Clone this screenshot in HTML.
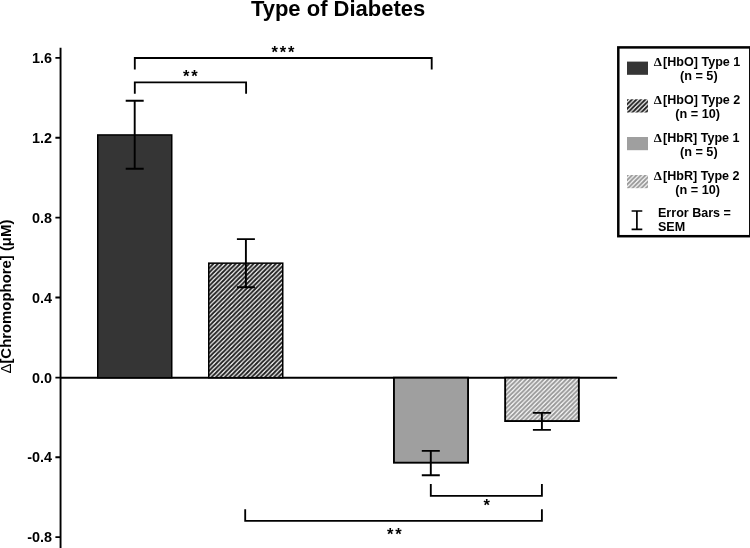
<!DOCTYPE html>
<html><head><meta charset="utf-8"><title>Type of Diabetes</title>
<style>
html,body{margin:0;padding:0;background:#fff;}
svg{display:block;}
text{font-family:"Liberation Sans",Arial,sans-serif;font-weight:bold;fill:#000;}
.d{font-family:"Liberation Serif","Times New Roman",serif;font-size:11.8px;font-weight:bold;}
</style></head><body>
<svg width="750" height="548" viewBox="0 0 750 548">
<defs>
<pattern id="h2" patternUnits="userSpaceOnUse" width="4.46" height="4.46">
<rect width="4.46" height="4.46" fill="#ffffff"/>
<path d="M-1.115,1.115 L1.115,-1.115 M0,4.46 L4.46,0 M3.345,5.575 L5.575,3.345" stroke="#202020" stroke-width="2"/>
</pattern>
<pattern id="h4" patternUnits="userSpaceOnUse" width="4.46" height="4.46">
<rect width="4.46" height="4.46" fill="#ffffff"/>
<path d="M-1.115,1.115 L1.115,-1.115 M0,4.46 L4.46,0 M3.345,5.575 L5.575,3.345" stroke="#989898" stroke-width="2"/>
</pattern>
</defs>
<rect width="750" height="548" fill="#fff"/>
<text x="338.1" y="15.9" font-size="22" text-anchor="middle">Type of Diabetes</text>
<!-- axes -->
<g stroke="#000" stroke-width="1.9" fill="none">
<line x1="60.55" y1="47.8" x2="60.55" y2="548"/>
<line x1="60.5" y1="377.7" x2="617.1" y2="377.7"/>
<path d="M55.4,57.9H60.5 M55.4,137.7H60.5 M55.4,217.6H60.5 M55.4,297.5H60.5 M55.4,377.6H60.5 M55.4,457.3H60.5 M55.4,537.1H60.5"/>
</g>
<g font-size="14.4" text-anchor="end">
<text x="52" y="63.0">1.6</text>
<text x="52" y="142.8">1.2</text>
<text x="52" y="222.7">0.8</text>
<text x="52" y="302.6">0.4</text>
<text x="52" y="382.7">0.0</text>
<text x="52" y="462.4">-0.4</text>
<text x="52" y="542.2">-0.8</text>
</g>
<text transform="translate(11,296.6) rotate(-90)" font-size="14.9" text-anchor="middle"><tspan style="font-weight:normal">Δ</tspan>[Chromophore] (μM)</text>
<!-- bars -->
<g stroke="#000" stroke-width="1.5">
<rect x="97.75" y="134.95" width="74" height="242.75" fill="#353535"/>
<rect x="208.75" y="263.15" width="74" height="114.55" fill="url(#h2)"/>
</g>
<g stroke="#000" stroke-width="1.9">
<rect x="393.95" y="377.7" width="74.1" height="85" fill="#9f9f9f"/>
<rect x="505.15" y="377.7" width="73.7" height="43.35" fill="url(#h4)"/>
</g>
<!-- error bars -->
<g stroke="#000" stroke-width="1.9" fill="none">
<path d="M134.7,100.7V168.8 M125.7,100.7H143.7 M125.7,168.8H143.7"/>
<path d="M245.9,239.1V287.3 M236.9,239.1H254.9 M236.9,287.3H254.9"/>
<path d="M430.8,450.9V475.2 M421.8,450.9H439.8 M421.8,475.2H439.8"/>
<path d="M541.9,412.9V429.9 M532.9,412.9H550.9 M532.9,429.9H550.9"/>
</g>
<!-- brackets -->
<g stroke="#000" stroke-width="1.85" fill="none">
<path d="M134.8,69.6V58H431.7V69.6"/>
<path d="M134.8,93.7V82.4H246.1V93.7"/>
<path d="M430.8,484.1V495.8H541.9V484.1"/>
<path d="M245.2,509.3V520.9H541.9V509.3"/>
</g>
<g font-size="16.5" letter-spacing="1.75">
<text x="271.6" y="57.7">***</text>
<text x="183" y="81.6">**</text>
<text x="483.5" y="511.4">*</text>
<text x="387" y="539.9">**</text>
</g>
<!-- legend -->
<rect x="618.3" y="47.4" width="132" height="188.8" fill="#fff" stroke="#000" stroke-width="2.5"/>
<rect x="627" y="61.6" width="21" height="13.2" fill="#353535"/>
<rect x="627" y="99.3" width="21" height="13.2" fill="url(#h2)"/>
<rect x="627" y="137" width="21" height="13.2" fill="#9f9f9f"/>
<rect x="627" y="175" width="21" height="13.2" fill="url(#h4)"/>
<path d="M636.9,211V229.4 M631.6,211H642.3 M631.6,229.4H642.3" stroke="#000" stroke-width="1.7" fill="none"/>
<g font-size="12.7" text-anchor="middle">
<text x="698.8" y="79.8">(n = 5)</text>
<text x="697.6" y="117.7">(n = 10)</text>
<text x="698.8" y="155.5">(n = 5)</text>
<text x="697.6" y="194.1">(n = 10)</text>
</g>
<g font-size="12.55">
<text transform="translate(653.8,66.3) scale(1.1,1)" class="d">Δ</text><text x="663.1" y="66.3">[HbO] Type 1</text>
<text transform="translate(653.8,103.9) scale(1.1,1)" class="d">Δ</text><text x="663.1" y="103.9">[HbO] Type 2</text>
<text transform="translate(653.8,141.6) scale(1.1,1)" class="d">Δ</text><text x="663.1" y="141.6">[HbR] Type 1</text>
<text transform="translate(653.8,179.8) scale(1.1,1)" class="d">Δ</text><text x="663.1" y="179.8">[HbR] Type 2</text>
<text x="658" y="216.6">Error Bars =</text>
<text x="658" y="230.5">SEM</text>
</g>
</svg>
</body></html>
